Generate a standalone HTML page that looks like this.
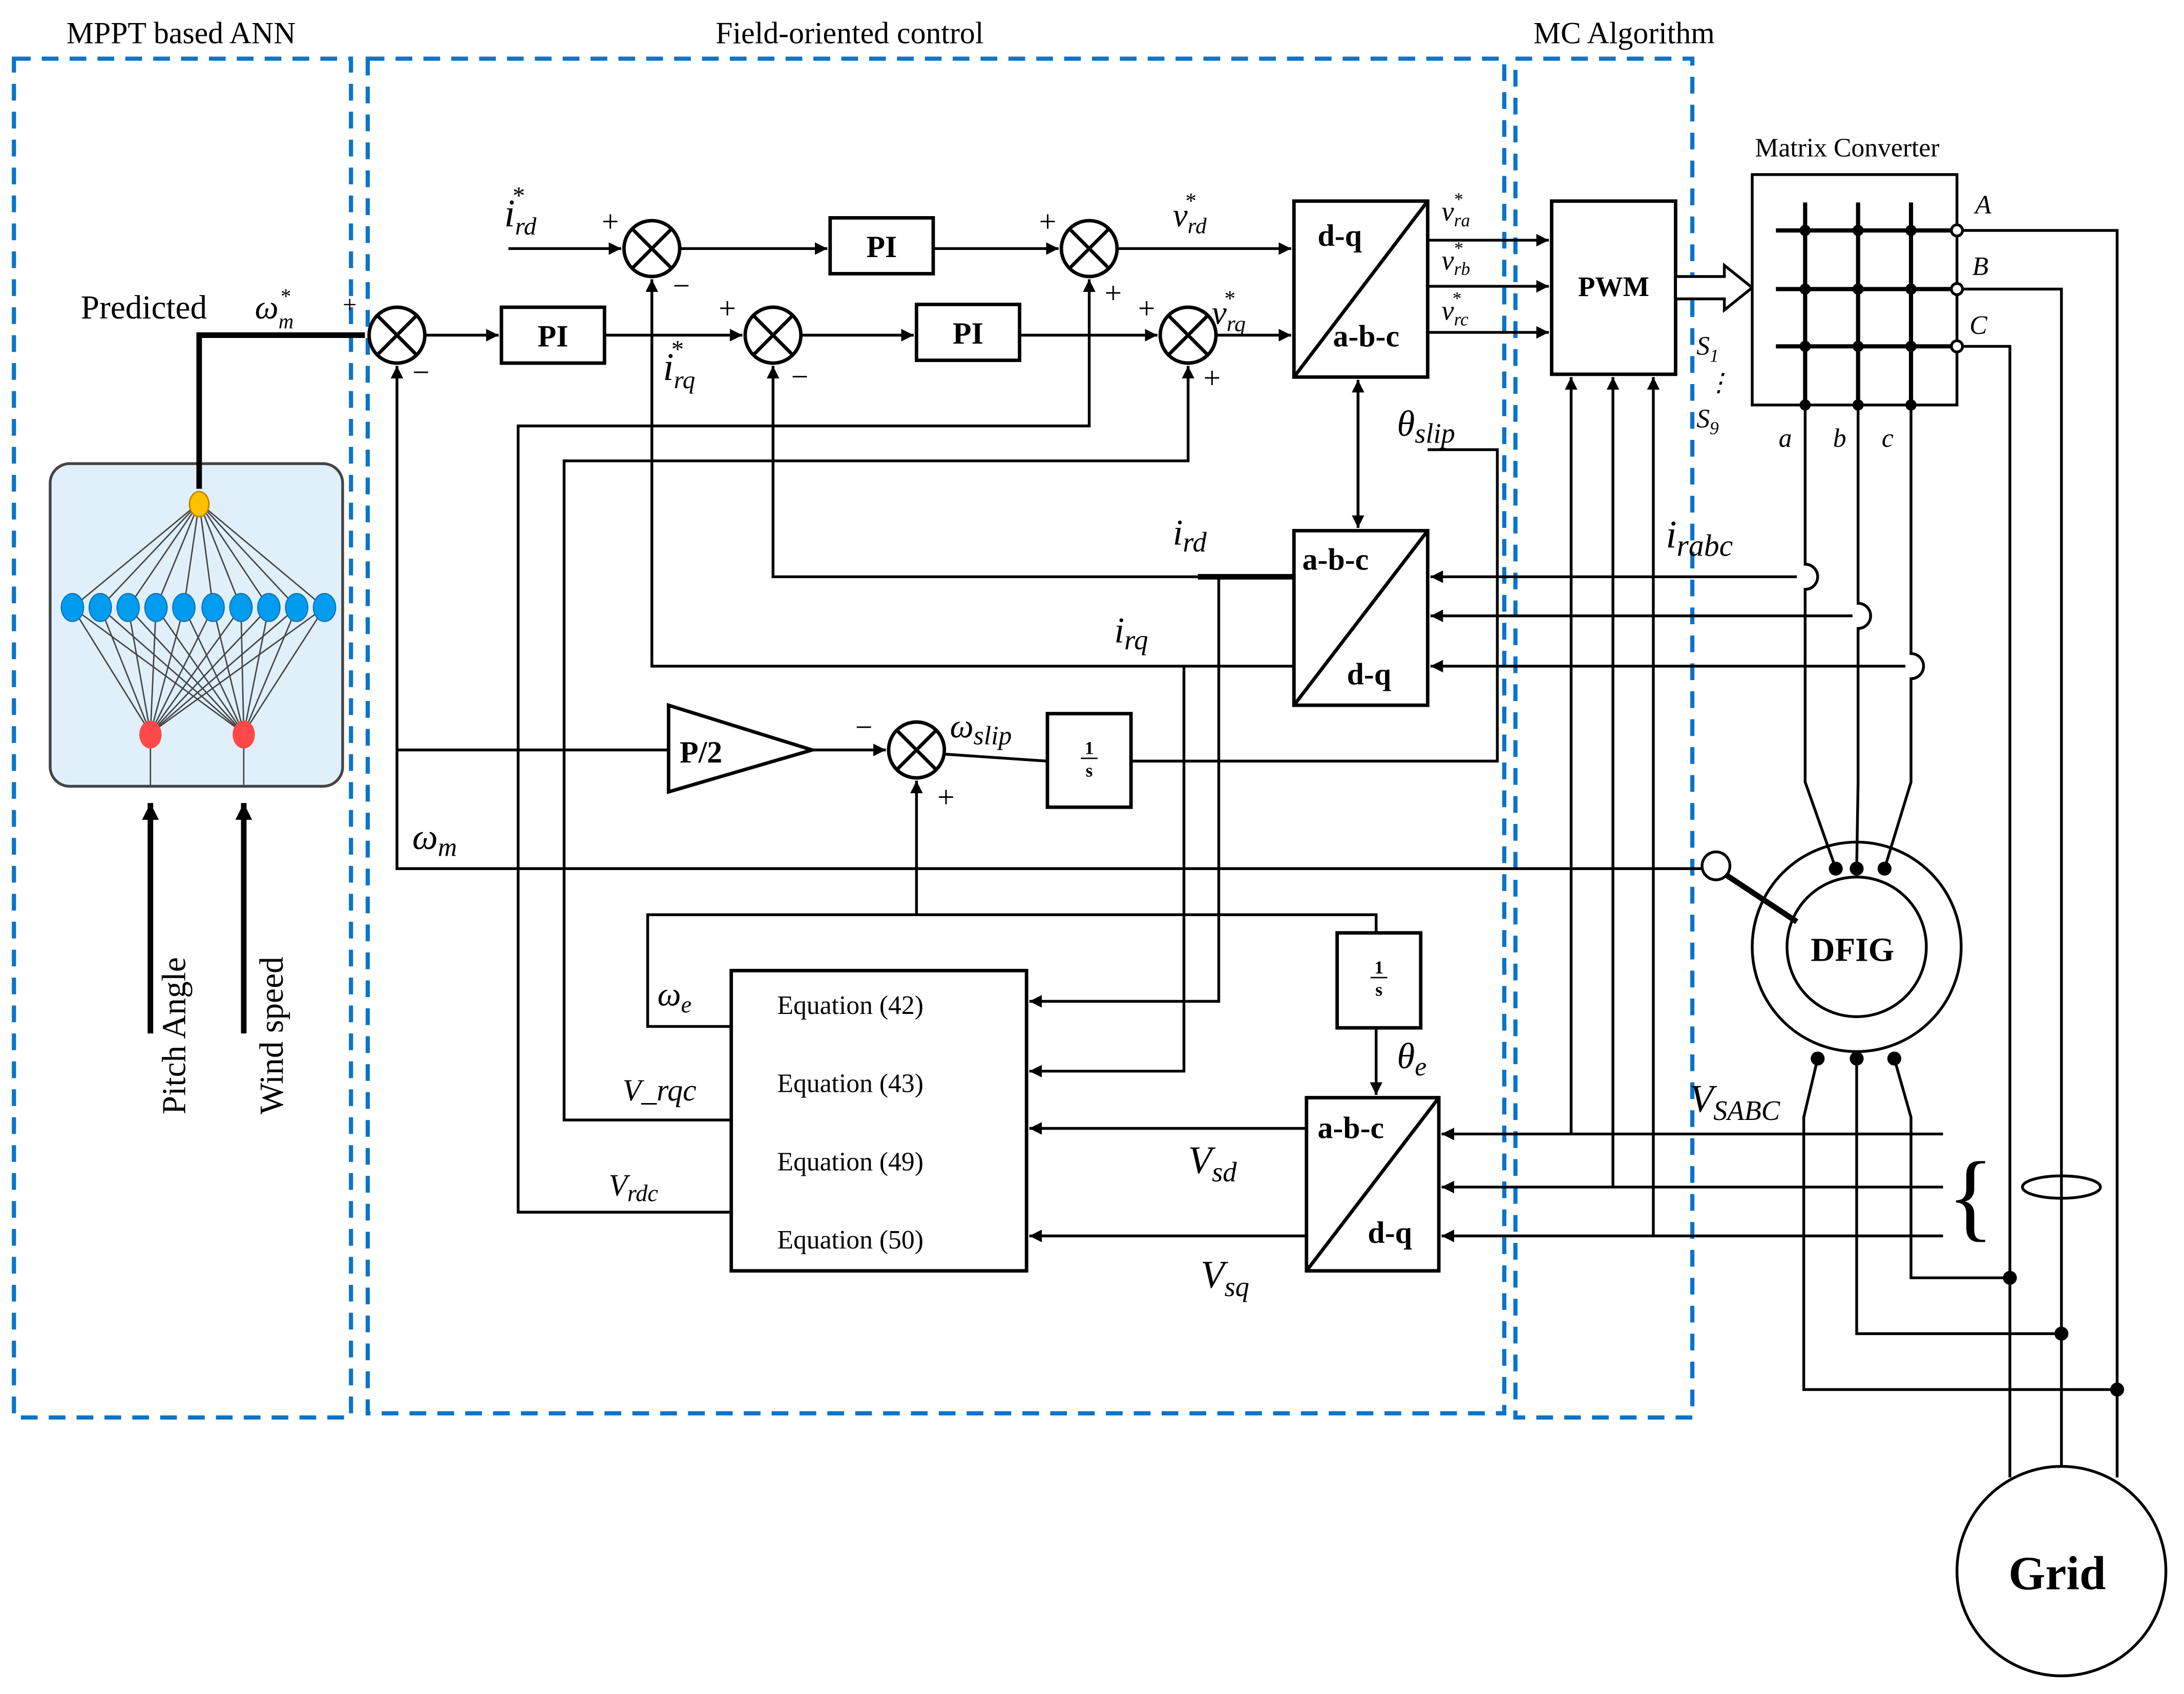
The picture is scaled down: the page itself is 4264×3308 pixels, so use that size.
<!DOCTYPE html>
<html><head><meta charset="utf-8"><style>
html,body{margin:0;padding:0;background:#fff;}
svg{display:block}
text{font-family:"Liberation Serif",serif;fill:#000}
.it{font-style:italic}
.b{font-weight:bold}
</style></head><body>
<svg width="4264" height="3308" viewBox="0 0 1568 1213" preserveAspectRatio="none" xmlns="http://www.w3.org/2000/svg">
<defs>
<marker id="a" viewBox="0 0 10 10" refX="10" refY="5" markerWidth="9" markerHeight="9" markerUnits="userSpaceOnUse" orient="auto"><path d="M0,0L10,5L0,10z" fill="#000"/></marker>
<marker id="a2" viewBox="0 0 10 10" refX="10" refY="5" markerWidth="12" markerHeight="12" markerUnits="userSpaceOnUse" orient="auto"><path d="M0,0L10,5L0,10z" fill="#000"/></marker>
</defs>
<rect width="1568" height="1213" fill="#fff"/>
<!-- dashed boxes -->
<g fill="none" stroke="#0a74c8" stroke-width="3" stroke-dasharray="12,8">
<rect x="10" y="42" width="242" height="973"/>
<rect x="264" y="42" width="816" height="970"/>
<rect x="1088" y="42" width="127" height="973"/>
</g>
<text x="130" y="31" font-size="22" text-anchor="middle">MPPT based ANN</text>
<text x="610" y="31" font-size="22" text-anchor="middle">Field-oriented control</text>
<text x="1166" y="31" font-size="22" text-anchor="middle">MC Algorithm</text>

<!-- ANN -->
<rect x="36" y="332" width="210" height="231" rx="14" fill="#dff0fa" stroke="#444" stroke-width="2"/>
<g stroke="#444" stroke-width="1">
<line x1="143" y1="360" x2="52" y2="435"/><line x1="143" y1="360" x2="72" y2="435"/><line x1="143" y1="360" x2="92" y2="435"/><line x1="143" y1="360" x2="112" y2="435"/><line x1="143" y1="360" x2="132" y2="435"/><line x1="143" y1="360" x2="153" y2="435"/><line x1="143" y1="360" x2="173" y2="435"/><line x1="143" y1="360" x2="193" y2="435"/><line x1="143" y1="360" x2="213" y2="435"/><line x1="143" y1="360" x2="233" y2="435"/>
<line x1="108" y1="525" x2="52" y2="435"/><line x1="108" y1="525" x2="72" y2="435"/><line x1="108" y1="525" x2="92" y2="435"/><line x1="108" y1="525" x2="112" y2="435"/><line x1="108" y1="525" x2="132" y2="435"/><line x1="108" y1="525" x2="153" y2="435"/><line x1="108" y1="525" x2="173" y2="435"/><line x1="108" y1="525" x2="193" y2="435"/><line x1="108" y1="525" x2="213" y2="435"/><line x1="108" y1="525" x2="233" y2="435"/>
<line x1="175" y1="525" x2="52" y2="435"/><line x1="175" y1="525" x2="72" y2="435"/><line x1="175" y1="525" x2="92" y2="435"/><line x1="175" y1="525" x2="112" y2="435"/><line x1="175" y1="525" x2="132" y2="435"/><line x1="175" y1="525" x2="153" y2="435"/><line x1="175" y1="525" x2="173" y2="435"/><line x1="175" y1="525" x2="193" y2="435"/><line x1="175" y1="525" x2="213" y2="435"/><line x1="175" y1="525" x2="233" y2="435"/>
<line x1="108" y1="525" x2="108" y2="563"/><line x1="175" y1="525" x2="175" y2="563"/>
</g>
<g fill="#009cf0" stroke="#1670b0" stroke-width="0.8">
<ellipse cx="52" cy="435" rx="8" ry="10"/><ellipse cx="72" cy="435" rx="8" ry="10"/><ellipse cx="92" cy="435" rx="8" ry="10"/><ellipse cx="112" cy="435" rx="8" ry="10"/><ellipse cx="132" cy="435" rx="8" ry="10"/><ellipse cx="153" cy="435" rx="8" ry="10"/><ellipse cx="173" cy="435" rx="8" ry="10"/><ellipse cx="193" cy="435" rx="8" ry="10"/><ellipse cx="213" cy="435" rx="8" ry="10"/><ellipse cx="233" cy="435" rx="8" ry="10"/>
</g>
<ellipse cx="143" cy="361" rx="7" ry="9" fill="#ffc000" stroke="#c08000"/>
<ellipse cx="108" cy="526" rx="8" ry="10" fill="#ff4848"/>
<ellipse cx="175" cy="526" rx="8" ry="10" fill="#ff4848"/>
<g stroke="#000" stroke-width="4" fill="none">
<line x1="108" y1="740" x2="108" y2="575" marker-end="url(#a2)"/>
<line x1="175" y1="740" x2="175" y2="575" marker-end="url(#a2)"/>
<polyline points="143,350 143,240 262,240"/>
</g>
<text transform="translate(133,798) rotate(-90)" font-size="24">Pitch Angle</text>
<text transform="translate(203,798) rotate(-90)" font-size="24">Wind speed</text>
<text x="58" y="228" font-size="24">Predicted</text>
<text x="183" y="228" font-size="24" class="it">ω<tspan font-size="15" dy="7">m</tspan><tspan font-size="15" dx="-10" dy="-18">*</tspan></text>
<text x="246" y="224" font-size="18">+</text>

<!-- lines -->
<g stroke="#000" stroke-width="2" fill="none">
<line x1="365" y1="178" x2="446" y2="178" marker-end="url(#a)"/>
<line x1="488" y1="178" x2="594" y2="178" marker-end="url(#a)"/>
<line x1="670" y1="178" x2="760" y2="178" marker-end="url(#a)"/>
<line x1="802" y1="178" x2="927" y2="178" marker-end="url(#a)"/>
<line x1="305" y1="240" x2="358" y2="240" marker-end="url(#a)"/>
<line x1="434" y1="240" x2="533" y2="240" marker-end="url(#a)"/>
<line x1="575" y1="240" x2="656" y2="240" marker-end="url(#a)"/>
<line x1="732" y1="240" x2="831" y2="240" marker-end="url(#a)"/>
<line x1="873" y1="240" x2="927" y2="240" marker-end="url(#a)"/>
<line x1="1025" y1="172" x2="1112" y2="172" marker-end="url(#a)"/>
<line x1="1025" y1="205" x2="1112" y2="205" marker-end="url(#a)"/>
<line x1="1025" y1="238" x2="1112" y2="238" marker-end="url(#a)"/>
<!-- feedbacks -->
<polyline points="929,413 555,413 555,262" marker-end="url(#a)"/>
<polyline points="929,477 468,477 468,200" marker-end="url(#a)"/>
<polyline points="875,413 875,717 739,717" marker-end="url(#a)"/>
<polyline points="850,477 850,767 739,767" marker-end="url(#a)"/>
<polyline points="525,802 405,802 405,330 853,330 853,262" marker-end="url(#a)"/>
<polyline points="525,868 372,868 372,305 782,305 782,200" marker-end="url(#a)"/>
<polyline points="525,735 465,735 465,655 988,655 988,668"/>
<line x1="658" y1="655" x2="658" y2="559" marker-end="url(#a)"/>
<line x1="988" y1="736" x2="988" y2="784" marker-end="url(#a)"/>
<line x1="938" y1="808" x2="739" y2="808" marker-end="url(#a)"/>
<line x1="938" y1="885" x2="739" y2="885" marker-end="url(#a)"/>
<!-- theta slip -->
<line x1="975" y1="282" x2="975" y2="378" marker-end="url(#a)"/>
<line x1="975" y1="370" x2="975" y2="272" marker-end="url(#a)"/>
<polyline points="812,545 1075,545 1075,322 1025,322"/>
<!-- omega m -->
<polyline points="1222,622 285,622 285,262" marker-end="url(#a)"/>
<line x1="285" y1="537" x2="480" y2="537"/>
<line x1="583" y1="537" x2="636" y2="537" marker-end="url(#a)"/>
<line x1="678" y1="540" x2="752" y2="545"/>
<!-- i rabc -->
<line x1="1290" y1="413" x2="1027" y2="413" marker-end="url(#a)"/>
<line x1="1330" y1="441" x2="1027" y2="441" marker-end="url(#a)"/>
<line x1="1368" y1="477" x2="1027" y2="477" marker-end="url(#a)"/>
<!-- V sabc -->
<line x1="1395" y1="812" x2="1035" y2="812" marker-end="url(#a)"/>
<line x1="1395" y1="850" x2="1035" y2="850" marker-end="url(#a)"/>
<line x1="1395" y1="885" x2="1035" y2="885" marker-end="url(#a)"/>
<line x1="1128" y1="812" x2="1128" y2="270" marker-end="url(#a)"/>
<line x1="1158" y1="850" x2="1158" y2="270" marker-end="url(#a)"/>
<line x1="1187" y1="885" x2="1187" y2="270" marker-end="url(#a)"/>
</g>
<line x1="860" y1="413" x2="929" y2="413" stroke="#000" stroke-width="4"/>

<!-- summing junctions -->
<g fill="#fff" stroke="#000" stroke-width="2.5">
<g transform="translate(285,240)"><circle r="20"/><path d="M-14,-14L14,14M14,-14L-14,14"/></g>
<g transform="translate(468,178)"><circle r="20"/><path d="M-14,-14L14,14M14,-14L-14,14"/></g>
<g transform="translate(555,240)"><circle r="20"/><path d="M-14,-14L14,14M14,-14L-14,14"/></g>
<g transform="translate(782,178)"><circle r="20"/><path d="M-14,-14L14,14M14,-14L-14,14"/></g>
<g transform="translate(853,240)"><circle r="20"/><path d="M-14,-14L14,14M14,-14L-14,14"/></g>
<g transform="translate(658,537)"><circle r="20"/><path d="M-14,-14L14,14M14,-14L-14,14"/></g>
</g>
<g font-size="22">
<text x="432" y="166">+</text><text x="483" y="212">−</text>
<text x="516" y="228">+</text><text x="568" y="277">−</text>
<text x="746" y="166">+</text><text x="793" y="217">+</text>
<text x="817" y="228">+</text><text x="864" y="278">+</text>
<text x="296" y="274">−</text>
<text x="614" y="528">−</text><text x="673" y="578">+</text>
</g>

<!-- blocks -->
<g fill="#fff" stroke="#000" stroke-width="2.5">
<rect x="360" y="220" width="74" height="40"/>
<rect x="596" y="156" width="74" height="40"/>
<rect x="658" y="218" width="74" height="40"/>
<rect x="929" y="144" width="96" height="126"/>
<rect x="929" y="380" width="96" height="125"/>
<rect x="938" y="786" width="95" height="124"/>
<rect x="1114" y="144" width="89" height="124"/>
<rect x="525" y="695" width="212" height="215"/>
<rect x="752" y="511" width="60" height="67"/>
<rect x="960" y="668" width="60" height="68"/>
<polygon points="480,505 480,567 583,537"/>
</g>
<g stroke="#000" stroke-width="2.5">
<line x1="929" y1="270" x2="1025" y2="144"/>
<line x1="929" y1="505" x2="1025" y2="380"/>
<line x1="938" y1="910" x2="1033" y2="786"/>
</g>
<g class="b" font-size="22">
<text x="397" y="248" text-anchor="middle">PI</text>
<text x="633" y="184" text-anchor="middle">PI</text>
<text x="695" y="246" text-anchor="middle">PI</text>
<text x="946" y="176">d-q</text><text x="957" y="248">a-b-c</text>
<text x="935" y="408">a-b-c</text><text x="967" y="490">d-q</text>
<text x="946" y="815">a-b-c</text><text x="982" y="890">d-q</text>
<text x="1133" y="212" font-size="20">PWM</text>
<text x="488" y="546">P/2</text>
</g>
<g class="b" font-size="13" text-anchor="middle">
<text x="782" y="540">1</text><line x1="776" y1="543" x2="788" y2="543" stroke="#000"/><text x="782" y="556">s</text>
<text x="990" y="697">1</text><line x1="984" y1="700" x2="996" y2="700" stroke="#000"/><text x="990" y="713">s</text>
</g>
<g font-size="19">
<text x="558" y="726">Equation (42)</text>
<text x="558" y="782">Equation (43)</text>
<text x="558" y="838">Equation (49)</text>
<text x="558" y="894">Equation (50)</text>
</g>

<!-- hollow arrow -->
<polygon points="1203,198 1238,198 1238,190 1258,206 1238,222 1238,214 1203,214" fill="#fff" stroke="#000" stroke-width="2"/>

<!-- Matrix converter -->
<text x="1260" y="112" font-size="19">Matrix Converter</text>
<rect x="1258" y="125" width="147" height="165" fill="#fff" stroke="#000" stroke-width="2"/>
<g stroke="#000" stroke-width="3">
<line x1="1275" y1="165" x2="1405" y2="165"/><line x1="1275" y1="207" x2="1405" y2="207"/><line x1="1275" y1="248" x2="1405" y2="248"/>
<line x1="1296" y1="145" x2="1296" y2="290"/><line x1="1334" y1="145" x2="1334" y2="290"/><line x1="1372" y1="145" x2="1372" y2="290"/>
</g>
<g fill="#000">
<circle cx="1296" cy="165" r="4"/><circle cx="1334" cy="165" r="4"/><circle cx="1372" cy="165" r="4"/>
<circle cx="1296" cy="207" r="4"/><circle cx="1334" cy="207" r="4"/><circle cx="1372" cy="207" r="4"/>
<circle cx="1296" cy="248" r="4"/><circle cx="1334" cy="248" r="4"/><circle cx="1372" cy="248" r="4"/>
<circle cx="1296" cy="290" r="4"/><circle cx="1334" cy="290" r="4"/><circle cx="1372" cy="290" r="4"/>
</g>
<g fill="#fff" stroke="#000" stroke-width="2">
<circle cx="1405" cy="165" r="4"/><circle cx="1405" cy="207" r="4"/><circle cx="1405" cy="248" r="4"/>
</g>
<g class="it" font-size="19">
<text x="1418" y="153">A</text><text x="1416" y="197">B</text><text x="1414" y="239">C</text>
<text x="1277" y="320">a</text><text x="1316" y="320">b</text><text x="1351" y="320">c</text>
</g>
<g stroke="#000" stroke-width="2" fill="none">
<polyline points="1409,165 1520,165 1520,1058"/>
<polyline points="1409,207 1480,207 1480,1050"/>
<polyline points="1409,248 1443,248 1443,1058"/>
<!-- rotor -->
<path d="M1296,290 V404 a9,9 0 0 1 0,18 V560 L1318,622"/>
<path d="M1334,290 V432 a9,9 0 0 1 0,18 V560 L1333,622"/>
<path d="M1372,290 V468 a9,9 0 0 1 0,18 V560 L1353,622"/>
<!-- stator -->
<polyline points="1305,758 1295,800 1295,995 1520,995"/>
<polyline points="1333,758 1333,955 1480,955"/>
<polyline points="1360,758 1372,800 1372,915 1443,915"/>
<!-- DFIG -->
<circle cx="1333" cy="678" r="75"/>
<circle cx="1333" cy="678" r="50"/>
<circle cx="1232" cy="620" r="10"/>
<ellipse cx="1480" cy="850" rx="28" ry="8"/>
<circle cx="1480" cy="1125" r="75"/>
</g>
<line x1="1240" y1="627" x2="1290" y2="660" stroke="#000" stroke-width="4"/>
<g fill="#000">
<circle cx="1318" cy="622" r="5"/><circle cx="1333" cy="622" r="5"/><circle cx="1353" cy="622" r="5"/>
<circle cx="1305" cy="758" r="5"/><circle cx="1333" cy="758" r="5"/><circle cx="1360" cy="758" r="5"/>
<circle cx="1443" cy="915" r="5"/><circle cx="1480" cy="955" r="5"/><circle cx="1520" cy="995" r="5"/>
</g>
<text x="1300" y="688" class="b" font-size="24">DFIG</text>
<text x="1442" y="1138" class="b" font-size="34">Grid</text>
<text x="1398" y="880" font-size="70" font-family="Liberation Serif">{</text>

<!-- labels -->
<g class="it">
<text x="362" y="162" font-size="28">i<tspan font-size="18" dy="6">rd</tspan><tspan font-size="18" dx="-18" dy="-22">*</tspan></text>
<text x="476" y="272" font-size="28">i<tspan font-size="18" dy="6">rq</tspan><tspan font-size="18" dx="-18" dy="-22">*</tspan></text>
<text x="842" y="162" font-size="24">v<tspan font-size="16" dy="5">rd</tspan><tspan font-size="16" dx="-16" dy="-18">*</tspan></text>
<text x="870" y="232" font-size="24">v<tspan font-size="16" dy="5">rq</tspan><tspan font-size="16" dx="-16" dy="-18">*</tspan></text>
<text x="1035" y="158" font-size="20">v<tspan font-size="13" dy="4">ra</tspan><tspan font-size="13" dx="-12" dy="-15">*</tspan></text>
<text x="1035" y="193" font-size="20">v<tspan font-size="13" dy="4">rb</tspan><tspan font-size="13" dx="-12" dy="-15">*</tspan></text>
<text x="1035" y="229" font-size="20">v<tspan font-size="13" dy="4">rc</tspan><tspan font-size="13" dx="-12" dy="-15">*</tspan></text>
<text x="1218" y="254" font-size="19">S<tspan font-size="13" dy="5">1</tspan></text>
<text x="1225" y="280" font-size="18">⋮</text>
<text x="1218" y="306" font-size="19">S<tspan font-size="13" dy="5">9</tspan></text>
<text x="1003" y="312" font-size="26">θ<tspan font-size="20" dy="5">slip</tspan></text>
<text x="842" y="390" font-size="26">i<tspan font-size="20" dy="5">rd</tspan></text>
<text x="800" y="460" font-size="26">i<tspan font-size="20" dy="5">rq</tspan></text>
<text x="1196" y="392" font-size="28">i<tspan font-size="22" dy="6">rabc</tspan></text>
<text x="682" y="528" font-size="24">ω<tspan font-size="19" dy="5">slip</tspan></text>
<text x="296" y="608" font-size="26">ω<tspan font-size="19" dy="5">m</tspan></text>
<text x="472" y="720" font-size="24">ω<tspan font-size="17" dy="5">e</tspan></text>
<text x="447" y="788" font-size="22">V_rqc</text>
<text x="437" y="856" font-size="22">V<tspan font-size="17" dy="4">rdc</tspan></text>
<text x="1003" y="765" font-size="26">θ<tspan font-size="19" dy="5">e</tspan></text>
<text x="853" y="840" font-size="28">V<tspan font-size="20" dy="6">sd</tspan></text>
<text x="862" y="922" font-size="28">V<tspan font-size="20" dy="6">sq</tspan></text>
<text x="1213" y="796" font-size="28">V<tspan font-size="20" dy="6">SABC</tspan></text>
</g>
</svg>
</body></html>
